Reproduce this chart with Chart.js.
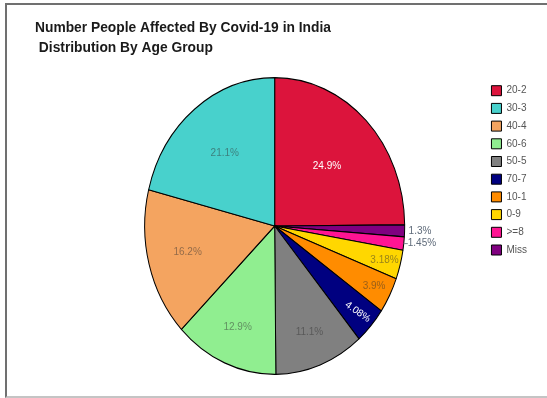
<!DOCTYPE html>
<html>
<head>
<meta charset="utf-8">
<script src="https://cdn.jsdelivr.net/npm/chart.js@4/dist/chart.umd.min.js"></script>
<style>
  html, body { margin: 0; padding: 0; background: #fff; overflow: hidden; }
  #frame {
    position: absolute; left: 5px; top: 3px; width: 600px; height: 395px;
    box-sizing: border-box;
    border-left: 2px solid #707070; border-top: 2px solid #707070; border-bottom: 2px solid #c4c4c4;
  }
</style>
</head>
<body>
<div id="frame"></div>
<canvas id="ageChart" width="547" height="398" style="position:absolute;left:0;top:0"></canvas>
<script>
// slices, clockwise from 12 o'clock
const ageGroups = ['20-2', 'Miss', '>=8', '0-9', '10-1', '70-7', '50-5', '60-6', '40-4', '30-3'];
const shares = [24.9, 1.3, 1.45, 3.18, 3.9, 4.08, 11.1, 12.9, 16.2, 21.1];
const sliceColors = ['#DC143C', '#800080', '#FF1493', '#FFD700', '#FF8C00', '#000080', '#808080', '#90EE90', '#F4A460', '#48D1CC'];
const legendOrder = ['20-2', '30-3', '40-4', '60-6', '50-5', '70-7', '10-1', '0-9', '>=8', 'Miss'];
const whiteLabels = ['20-2', '70-7'];
const rotatedLabels = ['70-7'];
const leaderLabels = ['>=8'];

const FONT = '"Liberation Sans", Arial, sans-serif';
const yStretch = 1.141; // the pie is drawn as an upright ellipse

document.addEventListener('DOMContentLoaded', () => {
  // squeeze the pie vertically into an ellipse around its centre
  const stretch = {
    id: 'stretch',
    beforeDatasetsDraw(chart) {
      const a = chart.chartArea;
      const cy = (a.top + a.bottom) / 2;
      chart.ctx.save();
      chart.ctx.translate(0, cy);
      chart.ctx.scale(1, yStretch);
      chart.ctx.translate(0, -cy);
    },
    afterDatasetsDraw(chart) {
      chart.ctx.restore();
    }
  };

  // percentage labels
  const sliceLabels = {
    id: 'sliceLabels',
    afterDraw(chart) {
      const ctx = chart.ctx;
      const meta = chart.getDatasetMeta(0);
      meta.data.forEach((arc, i) => {
        const p = arc.getProps(['x', 'y', 'startAngle', 'endAngle', 'outerRadius']);
        const mid = (p.startAngle + p.endAngle) / 2;
        const cos = Math.cos(mid), sin = Math.sin(mid);
        const v = shares[i];
        const text = v + '%';
        ctx.save();
        ctx.font = '10px ' + FONT;
        ctx.textBaseline = 'middle';
        if (v < 2) {
          const ex = p.x + cos * p.outerRadius;
          const ey = p.y + sin * p.outerRadius * yStretch;
          if (leaderLabels.includes(ageGroups[i])) {
            ctx.strokeStyle = '#7a8594';
            ctx.lineWidth = 1;
            ctx.beginPath();
            ctx.moveTo(ex, ey);
            ctx.lineTo(ex + 4, ey);
            ctx.stroke();
          }
          ctx.fillStyle = '#5f6b7a';
          ctx.textAlign = 'left';
          ctx.fillText(text, ex + 4, ey);
        } else {
          const r = p.outerRadius * (0.92 - 0.014 * v);
          const lx = p.x + cos * r;
          const ly = p.y + sin * r * yStretch;
          ctx.fillStyle = whiteLabels.includes(ageGroups[i]) ? '#ffffff' : 'rgba(50,50,50,0.5)';
          ctx.textAlign = 'center';
          ctx.translate(lx, ly);
          if (rotatedLabels.includes(ageGroups[i])) ctx.rotate(Math.atan2(sin, cos) - 0.12);
          ctx.fillText(text, 0, 0);
        }
        ctx.restore();
      });
    }
  };

  const ctx = document.getElementById('ageChart').getContext('2d');
  new Chart(ctx, {
    type: 'pie',
    data: {
      labels: ageGroups,
      datasets: [{
        data: shares,
        backgroundColor: sliceColors,
        borderColor: '#000',
        borderWidth: 1,
        radius: 130
      }]
    },
    options: {
      responsive: false,
      animation: false,
      events: [],
      layout: { padding: { left: 35, right: 10, top: 0, bottom: 24 } },
      plugins: {
        title: {
          display: true,
          align: 'start',
          text: ['Number People Affected By Covid-19 in India', ' Distribution By Age Group'],
          color: '#1a1a1a',
          font: { family: FONT, size: 13.8, weight: 'bold', lineHeight: '20px' },
          padding: { top: 18, bottom: 20 }
        },
        // empty spacer on the left so the pie sits where the original has it
        subtitle: {
          display: true,
          position: 'left',
          fullSize: false,
          text: '',
          font: { size: 10, lineHeight: '30.6px' },
          padding: 0
        },
        legend: {
          position: 'right',
          align: 'start',
          fullSize: false,
          labels: {
            boxWidth: 10,
            boxHeight: 10,
            padding: 7.7,
            color: '#555',
            font: { family: FONT, size: 10 },
            sort: (a, b) => legendOrder.indexOf(a.text) - legendOrder.indexOf(b.text)
          }
        },
        tooltip: { enabled: false }
      }
    },
    plugins: [stretch, sliceLabels]
  });
});
</script>
</body>
</html>
